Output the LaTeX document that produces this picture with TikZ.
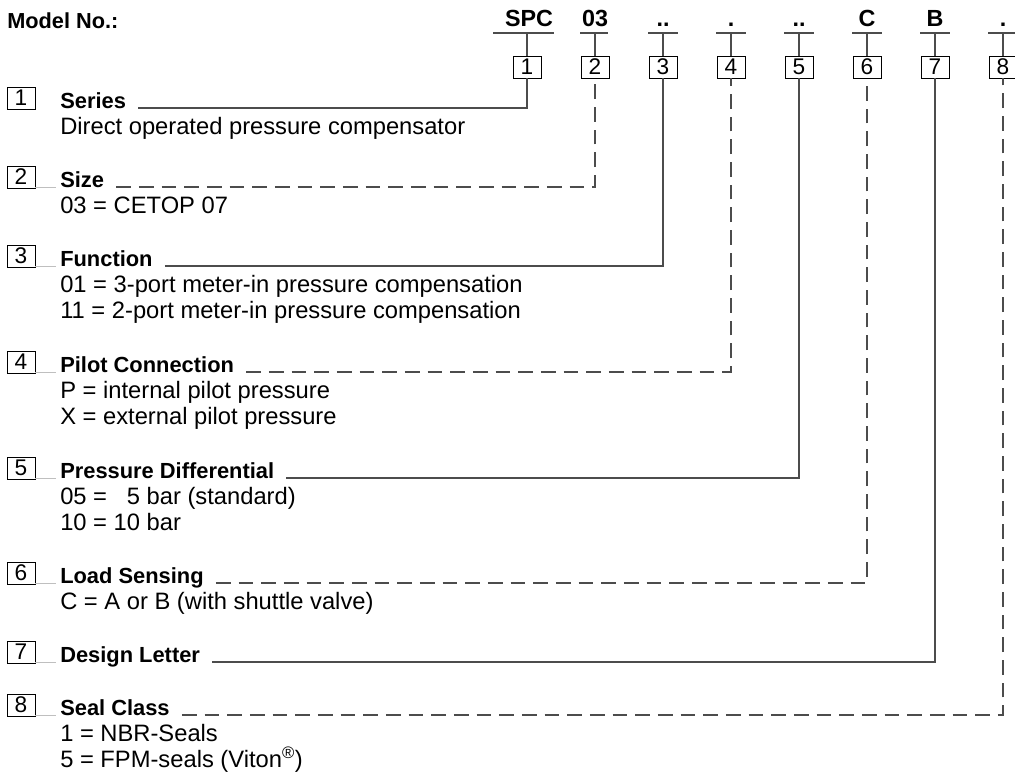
\documentclass[tikz,border=0pt]{standalone}
\usepackage{fontspec}
\setmainfont{Liberation Sans}
\usetikzlibrary{positioning}

\begin{document}
\begin{tikzpicture}[
    x=0.75pt, y=-0.75pt,
    code/.style={font=\fontsize{17.5}{20}\selectfont\bfseries, anchor=base,
                 inner sep=0pt},
    numbox/.style={draw, line width=0.7pt, minimum width=21pt,
                   minimum height=16.5pt, inner sep=0pt,
                   font=\fontsize{17}{19}\selectfont},
    head/.style={font=\fontsize{16.4}{18}\selectfont\bfseries,
                 anchor=base west, inner sep=0pt},
    body/.style={font=\fontsize{17.8}{20}\selectfont, anchor=base west,
                 inner sep=0pt},
    lead/.style={line width=0.85pt, draw=black!70},
    leaddash/.style={lead, dash pattern=on 11pt off 6pt},
    stub/.style={line width=0.5pt, draw=black!25}
  ]
  \useasboundingbox (0,0) rectangle (1015,776);

  % model code
  \node[code, anchor=base west, font=\fontsize{16.3}{19}\selectfont\bfseries]
    (model) at (7,28) {Model No.:};
  \node[code] (c1) at (529,26) {SPC};
  \node[code] (c2) at (595,26) {03};
  \node[code] (c3) at (663,26) {..};
  \node[code] (c4) at (731,26) {.};
  \node[code] (c5) at (799,26) {..};
  \node[code] (c6) at (867,26) {C};
  \node[code] (c7) at (935,26) {B};
  \node[code] (c8) at (1003,26) {.};

  % position boxes under the code
  \node[numbox] (t1) at (527,67) {1};
  \node[numbox] (t2) at (595,67) {2};
  \node[numbox] (t3) at (663,67) {3};
  \node[numbox] (t4) at (731,67) {4};
  \node[numbox] (t5) at (799,67) {5};
  \node[numbox] (t6) at (867,67) {6};
  \node[numbox] (t7) at (935,67) {7};
  \node[numbox] (t8) at (1003,67) {8};

  \coordinate (k1) at (527,33);
  \coordinate (k2) at (595,33);
  \coordinate (k3) at (663,33);
  \coordinate (k4) at (731,33);
  \coordinate (k5) at (799,33);
  \coordinate (k6) at (867,33);
  \coordinate (k7) at (935,33);
  \coordinate (k8) at (1003,33);

  \draw[lead] ([xshift=-25.5pt]k1) -- ([xshift=20pt]k1);
  \draw[lead] ([xshift=-11pt]k2) -- ([xshift=10pt]k2);
  \draw[lead] ([xshift=-11pt]k3) -- ([xshift=11pt]k3);
  \draw[lead] ([xshift=-11pt]k4) -- ([xshift=11pt]k4);
  \draw[lead] ([xshift=-11pt]k5) -- ([xshift=11pt]k5);
  \draw[lead] ([xshift=-11pt]k6) -- ([xshift=11pt]k6);
  \draw[lead] ([xshift=-11pt]k7) -- ([xshift=11pt]k7);
  \draw[lead] ([xshift=-11pt]k8) -- ([xshift=11pt]k8);

  \draw[lead] (k1) -- (t1.north);
  \draw[lead] (k2) -- (t2.north);
  \draw[lead] (k3) -- (t3.north);
  \draw[lead] (k4) -- (t4.north);
  \draw[lead] (k5) -- (t5.north);
  \draw[lead] (k6) -- (t6.north);
  \draw[lead] (k7) -- (t7.north);
  \draw[lead] (k8) -- (t8.north);

  % legend
  \node[numbox] (l1) at (21,98) {1};
  \node[head] (h1) at (60,108) {Series};
  \node[body] (d1a) at ([yshift=-19.5pt]h1.base west)
    {Direct operated pressure compensator};

  \node[numbox] (l2) at (21,177) {2};
  \node[head] (h2) at (60,187) {Size};
  \node[body] (d2a) at ([yshift=-19.5pt]h2.base west) {03 = CETOP 07};

  \node[numbox] (l3) at (21,256) {3};
  \node[head] (h3) at (60,266) {Function};
  \node[body] (d3a) at ([yshift=-19.5pt]h3.base west)
    {01 = 3-port meter-in pressure compensation};
  \node[body] (d3b) at ([yshift=-19.5pt]d3a.base west)
    {11 = 2-port meter-in pressure compensation};

  \node[numbox] (l4) at (21,362) {4};
  \node[head] (h4) at (60,372) {Pilot Connection};
  \node[body] (d4a) at ([yshift=-19.5pt]h4.base west)
    {P = internal pilot pressure};
  \node[body] (d4b) at ([yshift=-19.5pt]d4a.base west)
    {X = external pilot pressure};

  \node[numbox] (l5) at (21,468) {5};
  \node[head] (h5) at (60,478) {Pressure Differential};
  \node[body] (d5a) at ([yshift=-19.5pt]h5.base west)
    {05 = \hphantom{1}5 bar (standard)};
  \node[body] (d5b) at ([yshift=-19.5pt]d5a.base west) {10 = 10 bar};

  \node[numbox] (l6) at (21,573) {6};
  \node[head] (h6) at (60,583) {Load Sensing};
  \node[body] (d6a) at ([yshift=-19.5pt]h6.base west)
    {C = A or B (with shuttle valve)};

  \node[numbox] (l7) at (21,652) {7};
  \node[head] (h7) at (60,662) {Design Letter};

  \node[numbox] (l8) at (21,705) {8};
  \node[head] (h8) at (60,715) {Seal Class};
  \node[body] (d8a) at ([yshift=-19.5pt]h8.base west) {1 = NBR-Seals};
  \node[body] (d8b) at ([yshift=-19.5pt]d8a.base west)
    {5 = FPM-seals (Viton\textsuperscript{\textregistered})};

  % faint ties from the boxes to the headings
  \draw[stub] (l2.east |- h2.base west) -- ([xshift=-3pt]h2.base west);
  \draw[stub] (l3.east |- h3.base west) -- ([xshift=-3pt]h3.base west);
  \draw[stub] (l4.east |- h4.base west) -- ([xshift=-3pt]h4.base west);
  \draw[stub] (l5.east |- h5.base west) -- ([xshift=-3pt]h5.base west);
  \draw[stub] (l6.east |- h6.base west) -- ([xshift=-3pt]h6.base west);
  \draw[stub] (l7.east |- h7.base west) -- ([xshift=-3pt]h7.base west);
  \draw[stub] (l8.east |- h8.base west) -- ([xshift=-3pt]h8.base west);

  % leader lines
  \draw[lead]     ([xshift=9pt]h1.base east) -| (t1.south);
  \draw[leaddash] ([xshift=9pt]h2.base east) -| (t2.south);
  \draw[lead]     ([xshift=9pt]h3.base east) -| (t3.south);
  \draw[leaddash] ([xshift=9pt]h4.base east) -| (t4.south);
  \draw[lead]     ([xshift=9pt]h5.base east) -| (t5.south);
  \draw[leaddash] ([xshift=9pt]h6.base east) -| (t6.south);
  \draw[lead]     ([xshift=9pt]h7.base east) -| (t7.south);
  \draw[leaddash] ([xshift=9pt]h8.base east) -| (t8.south);
\end{tikzpicture}
\end{document}
